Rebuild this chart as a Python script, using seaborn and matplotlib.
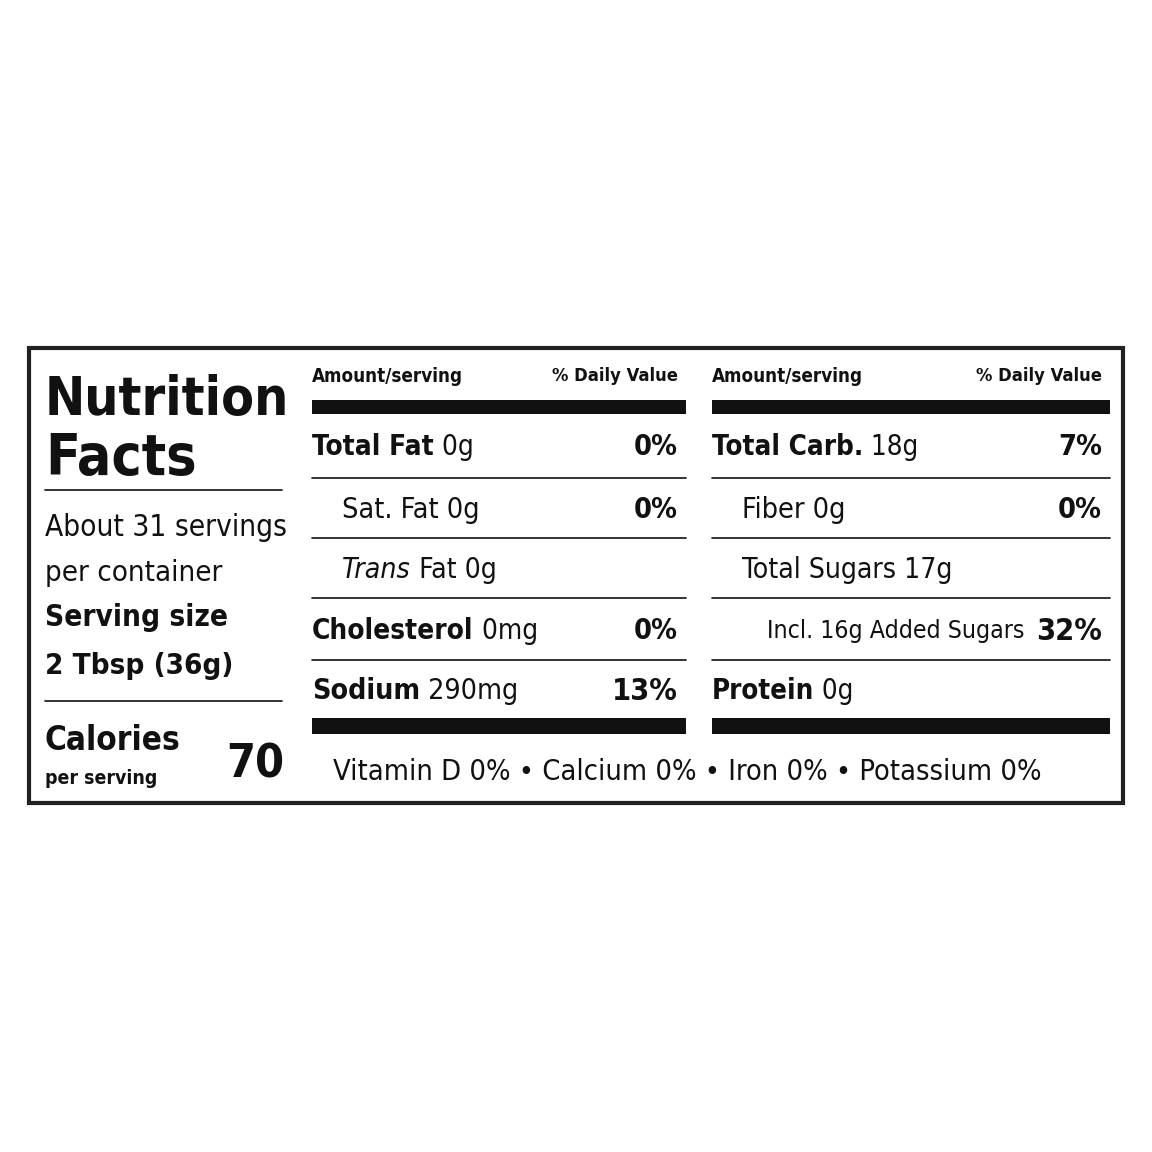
import matplotlib
matplotlib.use("Agg")
import matplotlib.pyplot as plt
import seaborn as sns

sns.set_style("white")
plt.rcParams['font.family'] = ['DejaVu Sans']
plt.rcParams['font.stretch'] = 'condensed'

title_lines = ["Nutrition", "Facts"]
servings = ["About 31 servings", "per container"]
serving_size = ["Serving size", "2 Tbsp (36g)"]
calories = "70"
header = ("Amount/serving", "% Daily Value")
left_rows = [("Total Fat", " 0g", "0%", "bold", 0, 162),
             ("Sat. Fat 0g", "", "0%", "normal", 30, 138),
             ("Trans", " Fat 0g", "", "italic", 30, 155),
             ("Cholesterol", " 0mg", "0%", "bold", 0, 226),
             ("Sodium", " 290mg", "13%", "bold", 0, 207)]
right_rows = [("Total Carb.", " 18g", "7%", "bold", 0, 206),
              ("Fiber 0g", "", "0%", "normal", 30, 104),
              ("Total Sugars 17g", "", "", "normal", 30, 212),
              ("Incl. 16g Added Sugars", "", "32%", "normal", 55, 258),
              ("Protein", " 0g", "", "bold", 0, 142)]
vitamins = "Vitamin D 0% • Calcium 0% • Iron 0% • Potassium 0%"

fig = plt.figure(figsize=(11.52, 11.52), dpi=100)
ax = fig.add_axes([0, 0, 1, 1])
ax.set_xlim(0, 1152); ax.set_ylim(1152, 0); ax.axis('off')
r = fig.canvas.get_renderer()
C = '#111111'

def fit(x, y, parts, size, maxw, ha='left', va='center'):
    # parts: list of (string, kwargs)
    def total(s):
        w = 0
        for txt, kw in parts:
            t = ax.text(0, 0, txt, fontsize=s, **kw)
            w += t.get_window_extent(r).width
            t.remove()
        return w
    w = total(size)
    if w > maxw:
        size = size * maxw / w
        w = total(size)
    cx = x - w if ha == 'right' else x
    for txt, kw in parts:
        t = ax.text(cx, y, txt, fontsize=size, va=va, color=C, **kw)
        cx += t.get_window_extent(r).width

B = {'weight': 'bold'}
N = {}
ax.add_patch(plt.Rectangle((29, 348), 1094, 455, fill=False, ec='#222222', lw=3))

fit(45, 415, [(title_lines[0], B)], 44, 245, va='baseline')
fit(45, 475, [(title_lines[1], B)], 44, 152, va='baseline')
ax.plot([45, 282], [490, 490], color=C, lw=1.2)
fit(45, 527, [(servings[0], N)], 26, 242)
fit(45, 573, [(servings[1], N)], 26, 177)
fit(45, 618, [(serving_size[0], B)], 26, 183)
fit(45, 666, [(serving_size[1], B)], 26, 188)
ax.plot([45, 282], [701, 701], color=C, lw=1.2)
fit(45, 740, [("Calories", B)], 29, 135)
fit(45, 778, [("per serving", B)], 15, 113)
fit(284, 765, [(calories, B)], 42, 58, ha='right')

row_y = [447, 510, 570, 631, 691]
sep_y = [478, 538, 598, 660]

def table(x0, x1, rows):
    fit(x0, 376, [(header[0], B)], 17, 151)
    fit(x1 - 8, 376, [(header[1], B)], 17, 126, ha='right')
    ax.add_patch(plt.Rectangle((x0, 400), x1 - x0, 14, color=C, lw=0))
    ax.add_patch(plt.Rectangle((x0, 718), x1 - x0, 16, color=C, lw=0))
    for y in sep_y:
        ax.plot([x0, x1], [y, y], color=C, lw=1.2)
    for (lab, rest, dv, sty, ind, w), y in zip(rows, row_y):
        first = {'bold': B, 'italic': {'style': 'italic'}, 'normal': N}[sty]
        parts = [(lab, first)] + ([(rest, N)] if rest else [])
        fit(x0 + ind, y, parts, 25, w)
        if dv:
            fit(x1 - 8, y, [(dv, B)], 25, 22 * len(dv), ha='right')

table(312, 686, left_rows)
table(712, 1110, right_rows)
fit(333, 772, [(vitamins, N)], 25, 710)

fig.savefig('out.png', dpi=100, facecolor='white')
